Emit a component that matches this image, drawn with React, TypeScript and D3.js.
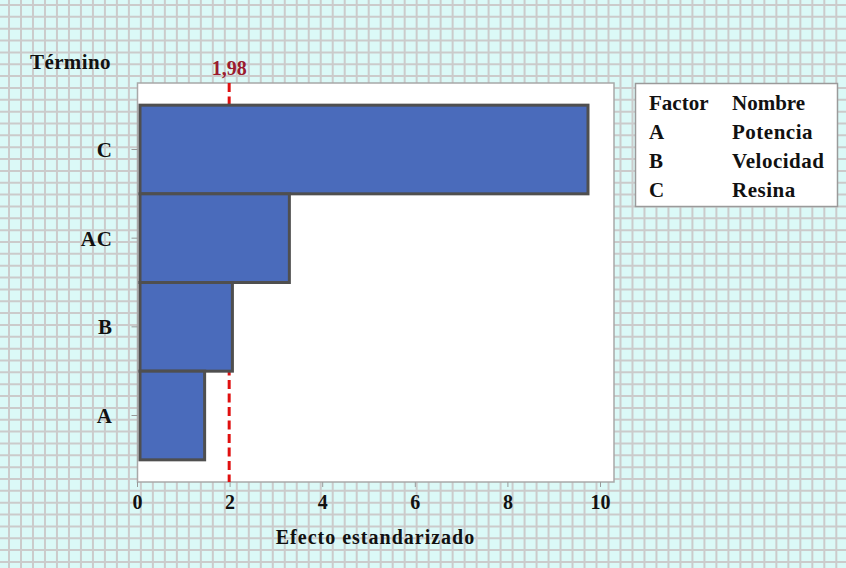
import React from "react";
import * as d3 from "d3";

const terms = ["C", "AC", "B", "A"];
const effects = [9.73, 3.28, 2.05, 1.45];
const xTicks = [0, 2, 4, 6, 8, 10];
const refValue = 1.98;
const refLabel = "1,98";
const legendHeader = ["Factor", "Nombre"];
const legendFactors = ["A", "B", "C"];
const legendNames = ["Potencia", "Velocidad", "Resina"];

const W = 846;
const H = 568;
const plot = { left: 137.5, right: 614, top: 83, bottom: 482 };
const FONT = "'Liberation Serif', 'Times New Roman', serif";

export default function App() {
  const x = d3.scaleLinear().domain([0, 10]).range([137.5, 600.5]);
  const y = d3
    .scaleBand<string>()
    .domain(terms)
    .range([plot.top, plot.bottom])
    .paddingInner(0)
    .paddingOuter(0.25);

  const vLines = d3.range(9, W + 12, 11.99);
  const hLines = d3.range(5, H + 12, 11.85);

  return (
    <svg
      width={W}
      height={H}
      style={{ position: "absolute", left: 0, top: 0 }}
      fontFamily={FONT}
    >
      <rect x={0} y={0} width={W} height={H} fill="#dbf9f7" />
      <g stroke="#cbcbcb" strokeWidth={2}>
        {vLines.map((v, i) => (
          <line key={"v" + i} x1={v} x2={v} y1={0} y2={H} />
        ))}
        {hLines.map((h, i) => (
          <line key={"h" + i} x1={0} x2={W} y1={h} y2={h} />
        ))}
      </g>

      {/* plot area */}
      <rect
        x={plot.left}
        y={plot.top}
        width={plot.right - plot.left}
        height={plot.bottom - plot.top}
        fill="#ffffff"
        stroke="#a8a8a8"
        strokeWidth={1.5}
      />

      {/* reference line (behind bars) */}
      <line
        x1={x(refValue)}
        x2={x(refValue)}
        y1={plot.top}
        y2={plot.bottom}
        stroke="#e01010"
        strokeWidth={3}
        strokeDasharray="9 4.5"
      />

      {/* bars */}
      {terms.map((t, i) => (
        <rect
          key={t}
          x={x(0) + 2.5}
          y={y(t)!}
          width={x(effects[i]) - x(0) - 2.5}
          height={y.bandwidth()}
          fill="#4a6bbb"
          stroke="#4f4f4f"
          strokeWidth={3}
        />
      ))}

      {/* y ticks & labels */}
      {terms.map((t) => {
        const cy = y(t)! + y.bandwidth() / 2;
        return (
          <g key={"yl" + t}>
            <line x1={plot.left - 6} x2={plot.left} y1={cy} y2={cy} stroke="#999" strokeWidth={1} />
            <text
              x={113}
              y={cy}
              dy="0.35em"
              textAnchor="end"
              fontSize={21}
              fontWeight="bold"
              letterSpacing={1}
              fill="#111"
            >
              {t}
            </text>
          </g>
        );
      })}

      {/* x ticks */}
      {xTicks.map((v) => (
        <g key={"xt" + v}>
          <line x1={x(v)} x2={x(v)} y1={plot.bottom} y2={plot.bottom + 5} stroke="#999" strokeWidth={1} />
          <text
            x={x(v)}
            y={509}
            textAnchor="middle"
            fontSize={20}
            fontWeight="bold"
            fill="#111"
          >
            {v}
          </text>
        </g>
      ))}

      <text
        x={x(refValue)}
        y={75}
        textAnchor="middle"
        fontSize={20}
        fontWeight="bold"
        fill="#9b1b2e"
      >
        {refLabel}
      </text>

      {/* axis titles */}
      <text x={30} y={69} fontSize={21} fontWeight="bold" letterSpacing={0.4} fill="#111">
        Término
      </text>
      <text
        x={375.5}
        y={544}
        textAnchor="middle"
        fontSize={20}
        fontWeight="bold"
        letterSpacing={1}
        fill="#111"
      >
        Efecto estandarizado
      </text>

      {/* legend */}
      <rect x={635.5} y={83.5} width={202} height={123} fill="#ffffff" stroke="#9a9a9a" strokeWidth={1.5} />
      <text x={649} y={110} fontSize={21} fontWeight="bold" fill="#111">
        {legendHeader[0]}
      </text>
      <text x={732} y={110} fontSize={21} fontWeight="bold" fill="#111">
        {legendHeader[1]}
      </text>
      {legendFactors.map((f, i) => (
        <g key={"lg" + f}>
          <text x={649} y={139 + i * 29} fontSize={21} fontWeight="bold" fill="#111">
            {f}
          </text>
          <text x={732} y={139 + i * 29} fontSize={21} fontWeight="bold" letterSpacing={0.5} fill="#111">
            {legendNames[i]}
          </text>
        </g>
      ))}
    </svg>
  );
}
